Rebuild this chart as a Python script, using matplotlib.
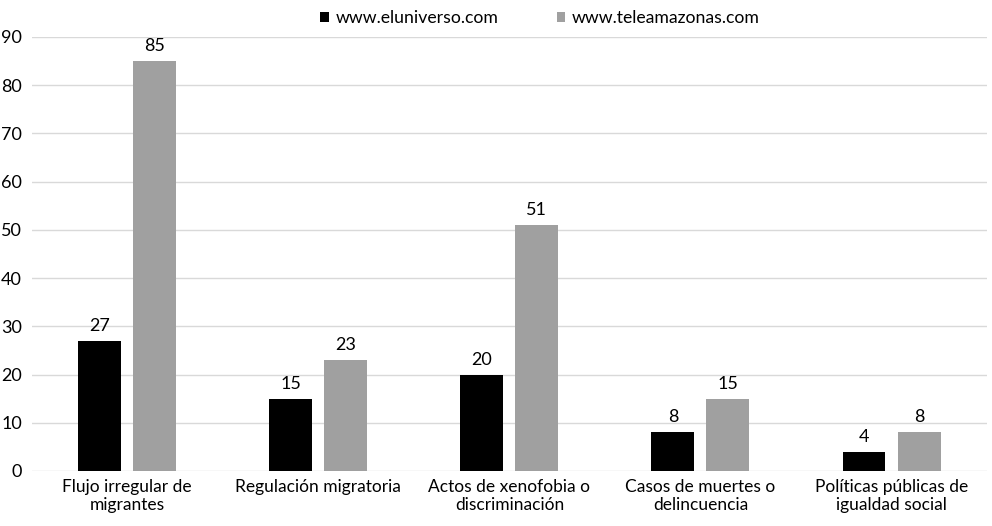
import numpy as np
import matplotlib.pyplot as plt

# datos
categorias = ["Flujo irregular de\nmigrantes", "Regulación migratoria",
              "Actos de xenofobia o\ndiscriminación", "Casos de muertes o\ndelincuencia",
              "Políticas públicas de\nigualdad social"]
eluniverso = [27, 15, 20, 8, 4]
teleamazonas = [85, 23, 51, 15, 8]
series = ["www.eluniverso.com", "www.teleamazonas.com"]

plt.rcParams["font.family"] = ["Lato", "DejaVu Sans"]

fig = plt.figure(figsize=(9.92, 5.26), dpi=100)
ax = fig.add_axes([0.032, 0.1046, 0.963, 0.8251])

x = np.arange(len(categorias))
w = 0.225
off = 0.144
b1 = ax.bar(x - off, eluniverso, w, color="#000000", label=series[0], zorder=3)
b2 = ax.bar(x + off, teleamazonas, w, color="#a0a0a0", label=series[1], zorder=3)

for bars in (b1, b2):
    ax.bar_label(bars, padding=5, fontsize=13)

ax.set_xlim(-0.5, len(categorias) - 0.5)
ax.set_ylim(0, 90)
ax.set_yticks(range(0, 91, 10))
ax.set_xticks(x)
ax.set_xticklabels(categorias, fontsize=12.5, linespacing=1.15)
ax.tick_params(axis="y", labelsize=13, length=0, pad=7)
ax.tick_params(axis="x", length=0, pad=6)
ax.grid(axis="y", color="#d9d9d9", linewidth=1, zorder=0)
for s in ax.spines.values():
    s.set_visible(False)

ax.legend(loc="lower center", bbox_to_anchor=(0.532, 1.0), ncol=2, frameon=False,
          fontsize=12.7, handlelength=0.5, handleheight=0.5, handletextpad=0.35,
          columnspacing=3.3, borderaxespad=0.2)

fig.savefig("out.png", dpi=100)
